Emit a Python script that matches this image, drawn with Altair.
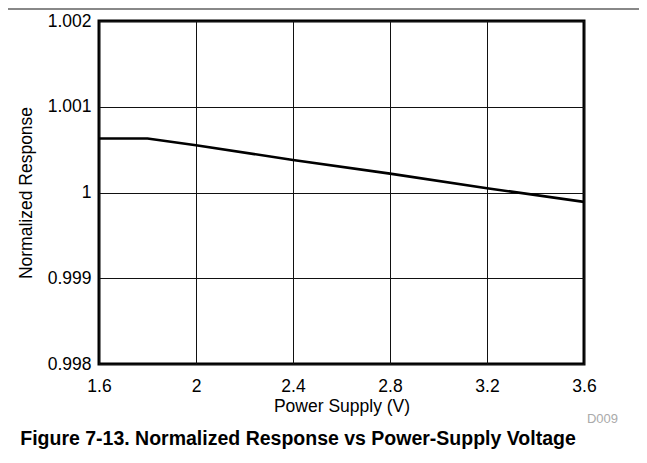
import altair as alt
import pandas as pd

supply_v = [1.6, 1.8, 2.0, 2.4, 2.8, 3.2, 3.6]
norm_resp = [1.00063, 1.00063, 1.00055, 1.00038, 1.00022, 1.00005, 0.99989]
x_ticks = [1.6, 2.0, 2.4, 2.8, 3.2, 3.6]
y_ticks = [0.998, 0.999, 1.000, 1.001, 1.002]

df = pd.DataFrame({"v": supply_v, "r": norm_resp})
FONT = "Liberation Sans"
FS = 17.5

line = alt.Chart(df).mark_line(color="black", strokeWidth=2.6, clip=True).encode(
    x=alt.X("v:Q", scale=alt.Scale(domain=[1.6, 3.6], nice=False, zero=False),
            axis=alt.Axis(values=x_ticks, format="~g", title="Power Supply (V)",
                          grid=True, gridColor="#111111", gridWidth=1, gridOpacity=1,
                          domain=False, ticks=False, labelFont=FONT, labelFontSize=FS,
                          labelColor="black", labelPadding=13, titleFont=FONT,
                          titleFontSize=FS, titleFontWeight="normal", titleColor="black",
                          titlePadding=3, labelFlush=False)),
    y=alt.Y("r:Q", scale=alt.Scale(domain=[0.998, 1.002], nice=False, zero=False),
            axis=alt.Axis(values=y_ticks, format="~g", title="Normalized Response",
                          grid=True, gridColor="#111111", gridWidth=1, gridOpacity=1,
                          domain=False, ticks=False, labelFont=FONT, labelFontSize=FS,
                          labelColor="black", labelPadding=8, titleFont=FONT,
                          titleFontSize=FS, titleFontWeight="normal", titleColor="black",
                          titlePadding=12, labelFlush=False)),
)

code = alt.Chart(pd.DataFrame({"t": ["D009"]})).mark_text(
    font=FONT, fontSize=13, color="#aaaaaa", align="right", baseline="middle"
).encode(x=alt.value(519), y=alt.value(398), text="t:N")

title = alt.Chart(pd.DataFrame({"t": ["Figure 7-13. Normalized Response vs Power-Supply Voltage"]})).mark_text(
    font=FONT, fontSize=19.5, fontWeight="bold", color="black", align="center", baseline="middle"
).encode(x=alt.value(199), y=alt.value(418), text="t:N")

topline = alt.Chart(pd.DataFrame({"a": [0]})).mark_rule(color="#888888", strokeWidth=2).encode(
    x=alt.value(-91), x2=alt.value(548), y=alt.value(-12)
)

chart = alt.layer(line, code, title, topline).properties(
    width=485, height=343,
    autosize=alt.AutoSizeParams(type="none"),
    padding={"left": 91, "top": 13, "right": 55, "bottom": 91},
).configure_view(stroke="black", strokeWidth=3)

chart.save("out.html", embed_options={"renderer": "svg", "actions": False})
